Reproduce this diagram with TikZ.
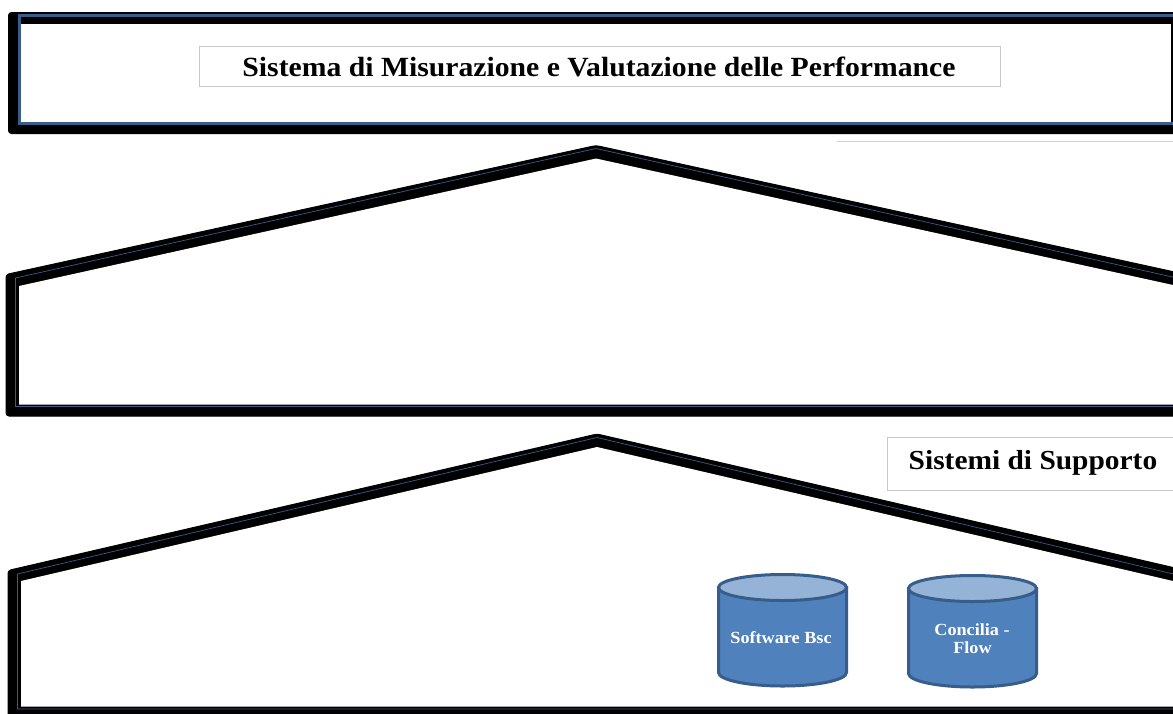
\documentclass[tikz,border=0pt]{standalone}
\usepackage{fontspec}
\setmainfont[FakeStretch=1.07]{Liberation Serif}
\definecolor{bluel}{HTML}{385D8A}
\definecolor{cylf}{HTML}{4F81BD}
\definecolor{cylt}{HTML}{95B3D7}
\tikzset{
  blk/.style={fill=black,draw=black,line width=1pt,line join=round,rounded corners=3pt},
  inn/.style={fill=white,draw=none},
  blu/.style={draw=bluel,line join=miter},
  lbl/.style={draw=black!22,fill=white,line width=0.8pt,inner sep=0pt,anchor=north west},
  ttl/.style={font=\bfseries\fontsize{27.5}{30}\selectfont,text=black,inner sep=0pt,anchor=base},
  cyt/.style={font=\bfseries\fontsize{17}{18}\selectfont,text=white,inner sep=0pt,anchor=base},
  cyl/.style={draw=bluel,line width=3pt,fill=cylf},
  cyltop/.style={draw=bluel,line width=3pt,fill=cylt}
}
\begin{document}
\begin{tikzpicture}[x=1pt,y=-1pt]
\useasboundingbox (0,0) rectangle (1173,713);
\clip (0,0) rectangle (1173,713);
\fill[white] (0,0) rectangle (1173,713);
% top frame
\path[blk] (8.5,12.5) -- (1180,12.5) -- (1180,133.5) -- (8.5,133.5) -- cycle;
\path[inn] (21,23.5) rectangle (1171,121.5);
\path[blu,line width=2.8pt] (19.5,15.4) -- (1180,15.4);
\path[blu,line width=3.5pt] (19.5,14) -- (19.5,123.6) -- (1180,123.6);
\draw[black!18,line width=1.2pt] (837,141.5) -- (1173,141.5);
% middle house
\path[blk] (6,274.5) -- (596,145.5) -- (1186,274.5) -- (1186,416) -- (6,416) -- cycle;
\path[inn] (19,286) -- (596,158.5) -- (1173,285) -- (1173,404.5) -- (19,404.5) -- cycle;
\path[blu,line width=0.7pt] (1186,280) -- (596,148.5) -- (15.5,278) -- (15.5,406.5) -- (1186,406.5);
% lower house
\path[blk] (8,570.5) -- (597,434) -- (1186,570.5) -- (1186,725) -- (8,725) -- cycle;
\path[inn] (21,581) -- (597,447) -- (1173,581) -- (1173,706.5) -- (21,706.5) -- cycle;
\path[blu,line width=0.7pt] (1186,577) -- (597,437.5) -- (17.5,574) -- (17.5,709) -- (1186,709);
% labels
\node[lbl,minimum width=801pt,minimum height=40pt] (titlebox) at (199,46) {};
\node[ttl,font=\bfseries\fontsize{27.75}{30}\selectfont] (title) at (599,76.5) {Sistema di Misurazione e Valutazione delle Performance};
\node[lbl,minimum width=300pt,minimum height=53pt] (supbox) at (887,437) {};
\node[ttl] (sup) at (1033,469) {Sistemi di Supporto};
% cylinder 1
\path[cyl] (718.5,587.5) -- (718.5,672.5) arc[start angle=180,end angle=0,x radius=64,y radius=13.5] -- (846.5,587.5) -- cycle;
\path[cyltop] (782.5,587.5) ellipse[x radius=64,y radius=13];
\node[cyt] (c1) at (781,643) {Software Bsc};
% cylinder 2
\path[cyl] (908.5,588.5) -- (908.5,673.5) arc[start angle=180,end angle=0,x radius=64,y radius=13.5] -- (1036.5,588.5) -- cycle;
\path[cyltop] (972.5,588.5) ellipse[x radius=64,y radius=13];
\node[cyt] (c2a) at (972,635) {Concilia -};
\node[cyt] (c2b) at (972.5,653) {Flow};
\end{tikzpicture}
\end{document}
